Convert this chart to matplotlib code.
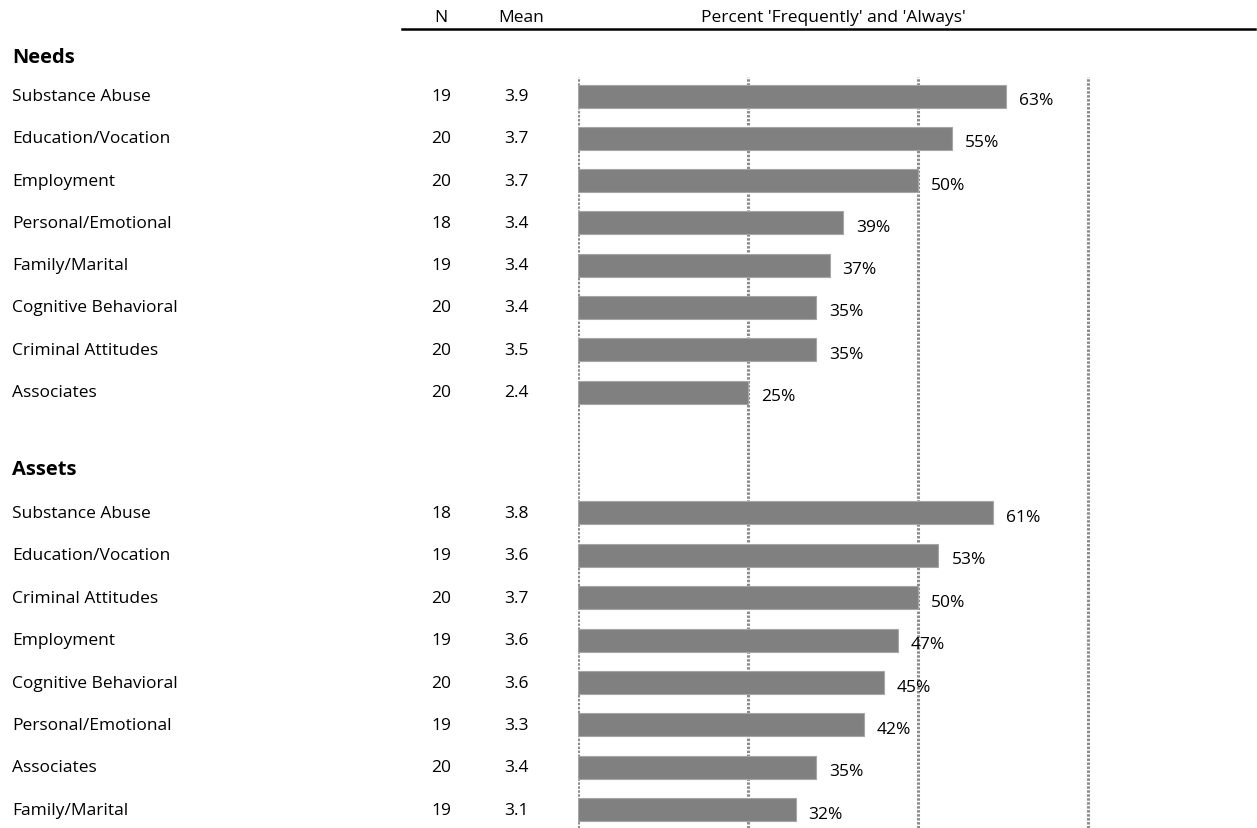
import matplotlib
matplotlib.use("Agg")
import matplotlib.pyplot as plt
from matplotlib.transforms import blended_transform_factory
from matplotlib.lines import Line2D

plt.rcParams['font.family'] = ['Open Sans', 'DejaVu Sans']

needs_labels = ["Substance Abuse", "Education/Vocation", "Employment", "Personal/Emotional",
                "Family/Marital", "Cognitive Behavioral", "Criminal Attitudes", "Associates"]
needs_n = [19, 20, 20, 18, 19, 20, 20, 20]
needs_mean = [3.9, 3.7, 3.7, 3.4, 3.4, 3.4, 3.5, 2.4]
needs_pct = [63, 55, 50, 39, 37, 35, 35, 25]

assets_labels = ["Substance Abuse", "Education/Vocation", "Criminal Attitudes", "Employment",
                 "Cognitive Behavioral", "Personal/Emotional", "Associates", "Family/Marital"]
assets_n = [18, 19, 20, 19, 20, 19, 20, 19]
assets_mean = [3.8, 3.6, 3.7, 3.6, 3.6, 3.3, 3.4, 3.1]
assets_pct = [61, 53, 50, 47, 45, 42, 35, 32]

grid_ticks = [0, 25, 50, 75]

W, H = 1257, 829
fig = plt.figure(figsize=(W / 100, H / 100), dpi=100)
ROW = 42.3
Y0 = 97.0
def prow(py):
    return (py - Y0) / ROW

x0px = 578
pxper = 6.8
ax = fig.add_axes([x0px / W, 0, (W - x0px) / W, 1])
ax.set_xlim(0, (W - x0px) / pxper)
ax.set_ylim(prow(H), prow(0))
ax.axis('off')

needs_y = [i for i in range(len(needs_pct))]
a0 = prow(514)
assets_y = [a0 + i * 42.4 / ROW for i in range(len(assets_pct))]

bar_h = 23 / ROW
gtop = 1 - 78 / H
for g in grid_ticks:
    ax.axvline(g, ymin=0, ymax=gtop, color='#8c8c8c', lw=2.2, ls=(0, (0.8, 0.5)), zorder=1)

bar_color = '#808080'
ax.barh(needs_y, needs_pct, height=bar_h, color=bar_color, edgecolor='#a6a6a6', lw=0.8, zorder=2)
ax.barh(assets_y, assets_pct, height=bar_h, color=bar_color, edgecolor='#a6a6a6', lw=0.8, zorder=2)

fs = 12.5
dy = 4 / ROW
for ys, vals in ((needs_y, needs_pct), (assets_y, assets_pct)):
    for y, v in zip(ys, vals):
        ax.text(v + 13 / pxper, y + dy, f"{v}%", va='center', ha='left', fontsize=fs, color='black')

tr = blended_transform_factory(fig.transFigure, ax.transData)
def row_texts(ys, labels, ns, means):
    for y, lab, n, m in zip(ys, labels, ns, means):
        ax.text(12 / W, y, lab, transform=tr, va='center', ha='left', fontsize=fs, clip_on=False)
        ax.text(441 / W, y, str(n), transform=tr, va='center', ha='center', fontsize=fs, clip_on=False)
        ax.text(516 / W, y, f"{m:.1f}", transform=tr, va='center', ha='center', fontsize=fs, clip_on=False)

row_texts(needs_y, needs_labels, needs_n, needs_mean)
row_texts(assets_y, assets_labels, assets_n, assets_mean)

ax.text(12 / W, prow(58), "Needs", transform=tr, va='center', ha='left', fontsize=14.5,
        fontweight='bold', clip_on=False)
ax.text(12 / W, prow(470), "Assets", transform=tr, va='center', ha='left', fontsize=14.5,
        fontweight='bold', clip_on=False)

fig.text(441 / W, 1 - 18 / H, "N", ha='center', va='center', fontsize=fs)
fig.text(521 / W, 1 - 18 / H, "Mean", ha='center', va='center', fontsize=fs)
fig.text(833 / W, 1 - 18 / H, "Percent 'Frequently' and 'Always'", ha='center', va='center', fontsize=fs)
fig.add_artist(Line2D([402 / W, 1255 / W], [1 - 30 / H, 1 - 30 / H], transform=fig.transFigure,
                      color='black', lw=1.8))

fig.savefig("out.png", dpi=100)
